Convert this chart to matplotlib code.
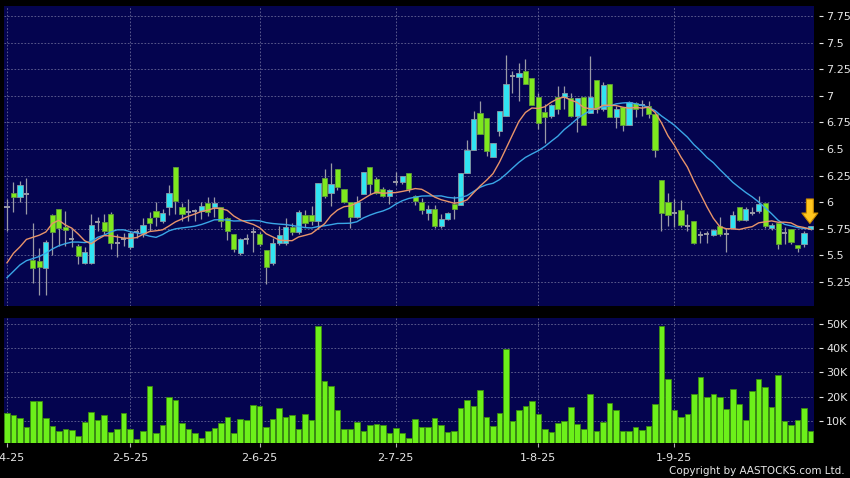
import pandas as pd
import matplotlib
matplotlib.use('Agg')
import matplotlib.pyplot as plt

# daily OHLC, 1 Apr 2025 .. 30 Sep 2025
opens = [5.95, 6.09, 6.05, 6.08, 5.46, 5.45, 5.38, 5.88, 5.94, 5.77,
         5.65, 5.59, 5.43, 5.43, 5.81, 5.81, 5.89, 5.62, 5.65, 5.58,
         5.72, 5.71, 5.85, 5.92, 5.82, 5.95, 6.33, 5.95, 5.91, 5.92,
         5.92, 5.99, 5.95, 5.95, 5.85, 5.70, 5.52, 5.65, 5.72, 5.70,
         5.55, 5.43, 5.62, 5.62, 5.77, 5.72, 5.88, 5.88, 5.82, 6.23,
         6.09, 6.31, 6.12, 6.00, 5.86, 6.08, 6.33, 6.22, 6.12, 6.06,
         6.19, 6.19, 6.27, 6.06, 6.00, 5.90, 5.94, 5.78, 5.84, 5.98,
         5.97, 6.27, 6.49, 6.84, 6.79, 6.42, 6.67, 6.81, 7.19, 7.18,
         7.23, 7.17, 6.99, 6.85, 6.81, 6.99, 6.99, 6.98, 6.81, 6.99,
         6.84, 7.15, 6.88, 7.11, 6.80, 6.89, 6.73, 6.93, 6.91, 6.90,
         6.83, 6.21, 6.00, 5.90, 5.93, 5.78, 5.82, 5.69, 5.70, 5.69,
         5.78, 5.70, 5.76, 5.95, 5.83, 5.90, 5.92, 5.99, 5.76, 5.80,
         5.71, 5.75, 5.60, 5.61, 5.75]
highs = [6.03, 6.19, 6.20, 6.23, 5.80, 5.57, 5.64, 5.89, 5.94, 5.92,
         5.75, 5.61, 5.58, 5.89, 5.86, 5.89, 5.91, 5.70, 5.71, 5.73,
         5.75, 5.85, 5.91, 6.00, 5.94, 6.16, 6.33, 5.99, 6.03, 5.94,
         6.00, 6.05, 6.05, 5.95, 5.86, 5.70, 5.66, 5.70, 5.77, 5.72,
         5.55, 5.66, 5.78, 5.85, 5.80, 5.93, 5.93, 5.96, 6.18, 6.31,
         6.37, 6.31, 6.12, 6.00, 6.06, 6.28, 6.33, 6.24, 6.14, 6.12,
         6.28, 6.25, 6.27, 6.07, 6.04, 5.97, 5.97, 5.89, 5.91, 6.06,
         6.27, 6.58, 6.86, 6.95, 6.79, 6.56, 6.86, 7.38, 7.23, 7.31,
         7.35, 7.17, 7.03, 6.92, 6.92, 7.09, 7.09, 7.03, 6.98, 6.99,
         7.37, 7.15, 7.13, 7.11, 6.90, 6.89, 6.95, 6.94, 6.96, 6.95,
         6.83, 6.21, 6.09, 6.03, 6.02, 5.89, 5.82, 5.73, 5.73, 5.75,
         5.86, 5.76, 5.92, 5.95, 5.95, 5.95, 6.06, 5.99, 5.80, 5.80,
         5.77, 5.75, 5.60, 5.73, 5.78]
lows = [5.73, 5.91, 6.00, 5.89, 5.24, 5.13, 5.13, 5.50, 5.59, 5.59,
        5.58, 5.42, 5.42, 5.42, 5.73, 5.70, 5.56, 5.48, 5.59, 5.56,
        5.66, 5.67, 5.73, 5.78, 5.80, 5.88, 5.89, 5.82, 5.82, 5.82,
        5.84, 5.87, 5.86, 5.77, 5.64, 5.53, 5.50, 5.61, 5.53, 5.59,
        5.23, 5.41, 5.60, 5.60, 5.69, 5.70, 5.77, 5.79, 5.75, 6.04,
        5.96, 6.11, 5.99, 5.76, 5.85, 6.08, 6.08, 6.08, 6.05, 5.98,
        6.16, 6.17, 6.10, 5.97, 5.89, 5.83, 5.76, 5.76, 5.83, 5.84,
        5.97, 6.27, 6.49, 6.64, 6.43, 6.42, 6.62, 6.81, 7.03, 6.95,
        7.11, 6.91, 6.69, 6.56, 6.79, 6.83, 6.88, 6.80, 6.66, 6.73,
        6.84, 6.84, 6.86, 6.80, 6.70, 6.67, 6.73, 6.80, 6.81, 6.79,
        6.42, 5.73, 5.78, 5.77, 5.77, 5.73, 5.61, 5.62, 5.62, 5.68,
        5.68, 5.53, 5.75, 5.82, 5.82, 5.88, 5.90, 5.76, 5.74, 5.56,
        5.61, 5.61, 5.53, 5.58, 5.74]
closes = [5.95, 6.05, 6.16, 6.08, 5.38, 5.39, 5.63, 5.72, 5.76, 5.74,
          5.65, 5.49, 5.53, 5.79, 5.81, 5.73, 5.62, 5.62, 5.65, 5.71,
          5.72, 5.79, 5.80, 5.86, 5.90, 6.09, 6.01, 5.89, 5.91, 5.92,
          5.96, 5.91, 5.99, 5.82, 5.73, 5.56, 5.65, 5.65, 5.72, 5.61,
          5.39, 5.62, 5.69, 5.77, 5.72, 5.91, 5.80, 5.82, 6.18, 6.06,
          6.17, 6.14, 6.00, 5.86, 6.00, 6.28, 6.17, 6.09, 6.06, 6.11,
          6.19, 6.25, 6.12, 6.01, 5.93, 5.94, 5.78, 5.84, 5.90, 5.94,
          6.27, 6.49, 6.78, 6.64, 6.48, 6.56, 6.86, 7.11, 7.19, 7.21,
          7.11, 6.91, 6.74, 6.80, 6.91, 6.88, 7.03, 6.81, 6.98, 6.73,
          6.99, 6.88, 7.10, 6.80, 6.88, 6.73, 6.94, 6.88, 6.91, 6.83,
          6.49, 5.90, 5.88, 5.90, 5.79, 5.78, 5.62, 5.69, 5.70, 5.74,
          5.70, 5.70, 5.88, 5.83, 5.94, 5.90, 5.98, 5.78, 5.79, 5.61,
          5.71, 5.63, 5.57, 5.71, 5.78]
# volume in thousands of shares
volumes = [13.2, 12.4, 11.3, 7.7, 18.1, 18.1, 11.3, 8.0, 6.0, 6.6,
           6.3, 4.0, 9.5, 13.9, 10.4, 12.4, 5.6, 6.5, 13.1, 6.9,
           2.7, 5.9, 24.3, 5.1, 8.5, 19.8, 18.7, 9.3, 6.9, 4.9,
           3.0, 6.0, 7.0, 9.1, 11.8, 4.9, 10.9, 10.6, 16.8, 16.2,
           7.6, 11.0, 15.5, 11.7, 12.6, 6.9, 12.9, 10.4, 49.3, 26.3,
           24.5, 14.7, 6.5, 6.6, 9.5, 5.8, 8.4, 8.9, 8.4, 5.2,
           7.3, 5.2, 3.0, 11.0, 7.6, 7.7, 11.3, 8.4, 5.4, 5.8,
           15.3, 18.6, 16.1, 22.7, 11.7, 8.0, 13.3, 39.6, 10.0, 14.6,
           16.1, 18.3, 12.8, 6.5, 5.5, 9.3, 9.9, 15.7, 8.7, 6.6,
           21.3, 6.0, 9.5, 17.5, 14.7, 6.0, 5.8, 7.4, 6.2, 8.0,
           17.2, 49.2, 27.5, 14.6, 11.7, 12.9, 21.3, 28.2, 19.8, 21.0,
           19.7, 15.0, 23.4, 17.2, 10.4, 22.5, 27.5, 23.9, 15.9, 29.1,
           10.2, 8.5, 10.3, 15.3, 6.0]
# moving averages before enough days are on the chart
ma10_head = [5.43, 5.52, 5.58, 5.65, 5.67, 5.69, 5.72, 5.80, 5.83]
ma20_head = [5.29, 5.35, 5.41, 5.45, 5.47, 5.49, 5.52, 5.56, 5.59, 5.61,
             5.625, 5.625, 5.62, 5.63, 5.67, 5.69, 5.72, 5.74, 5.74]

tick_pos = [0, 19, 39, 60, 82, 103]
tick_labels = ['1-4-25', '2-5-25', '2-6-25', '2-7-25', '1-8-25', '1-9-25']
price_ticks = [5.25, 5.5, 5.75, 6, 6.25, 6.5, 6.75, 7, 7.25, 7.5, 7.75]
vol_ticks = [10, 20, 30, 40, 50]

df = pd.DataFrame({'open': opens, 'high': highs, 'low': lows,
                   'close': closes, 'volume': volumes})
df['ma10'] = df['close'].rolling(10).mean()
df['ma20'] = df['close'].rolling(20).mean()
df.loc[:len(ma10_head) - 1, 'ma10'] = ma10_head
df.loc[:len(ma20_head) - 1, 'ma20'] = ma20_head

BG = '#04044f'
GREEN = '#7ee81e'
CYAN = '#30e4f2'
WICK = '#9a9aa6'
GRID = '#8080a8'
TXT = '#e6e6e6'

fig = plt.figure(figsize=(8.5, 4.78), dpi=100, facecolor='black')
ax = fig.add_axes([4 / 850, 1 - 306 / 478, 809.5 / 850, 300 / 478], facecolor=BG)
axv = fig.add_axes([4 / 850, 1 - 443 / 478, 809.5 / 850, 125 / 478], facecolor=BG)

x = df.index.values
up = df['close'] > df['open']
down = df['close'] < df['open']
flat = df['close'] == df['open']
w = 0.8

ax.vlines(x, df['low'], df['high'], color=WICK, linewidth=0.9, zorder=2)
ax.bar(x[up], (df['close'] - df['open'])[up], bottom=df['open'][up], width=w,
       color=CYAN, edgecolor='#8a9aa4', linewidth=0.6, zorder=3)
ax.bar(x[down], (df['open'] - df['close'])[down], bottom=df['close'][down], width=w,
       color=GREEN, edgecolor='#5f9a3a', linewidth=0.6, zorder=3)
ax.hlines(df['open'][flat], x[flat] - w / 2, x[flat] + w / 2, color=WICK, linewidth=1.4, zorder=3)

ax.plot(x, df['ma20'], color='#3aa6e6', linewidth=1.0, zorder=4)
ax.plot(x, df['ma10'], color='#e8946a', linewidth=1.0, zorder=4)

# yellow marker above the latest day
last = len(df) - 1
ax.annotate('', xy=(last - 0.1, df['high'][last] + 0.02), xytext=(last - 0.1, df['high'][last] + 0.25),
            arrowprops=dict(arrowstyle='simple,head_width=1.15,head_length=0.75,tail_width=0.5',
                            fc='#ffc61e', ec='#c88a00', lw=0.8, shrinkA=0, shrinkB=0),
            annotation_clip=False, zorder=6)

axv.bar(x, df['volume'], width=0.86, color='#6cf01a', edgecolor='#3c8c10', linewidth=0.6)

for a in (ax, axv):
    a.set_xlim(-0.46, 124.46)
    a.set_xticks(tick_pos)
    a.grid(True, color=GRID, linestyle=(0, (2, 2)), linewidth=0.6, alpha=0.8)
    a.set_axisbelow(True)
    a.yaxis.tick_right()
    a.spines['right'].set_position(('outward', 4))
    for s in a.spines.values():
        s.set_visible(False)
    a.tick_params(axis='y', colors=TXT, labelcolor=TXT, length=3, width=0.8,
                  pad=2, labelsize=8)

ax.set_ylim(5.024, 7.844)
ax.set_yticks(price_ticks)
ax.set_yticklabels(['%g' % v for v in price_ticks])
ax.tick_params(axis='x', length=0, labelbottom=False)

axv.set_ylim(0.93, 52.47)
axv.set_yticks(vol_ticks)
axv.set_yticklabels(['%dK' % v for v in vol_ticks])
axv.set_xticklabels(tick_labels)
axv.tick_params(axis='x', colors='#b0b0b0', labelcolor=TXT, length=3, width=0.8,
                pad=4, labelsize=8)

fig.text(845 / 850, 1 - 471 / 478, 'Copyright by AASTOCKS.com Ltd.', color=TXT,
         fontsize=7.5, ha='right', va='center')

fig.savefig('out.png', dpi=100, facecolor='black')
